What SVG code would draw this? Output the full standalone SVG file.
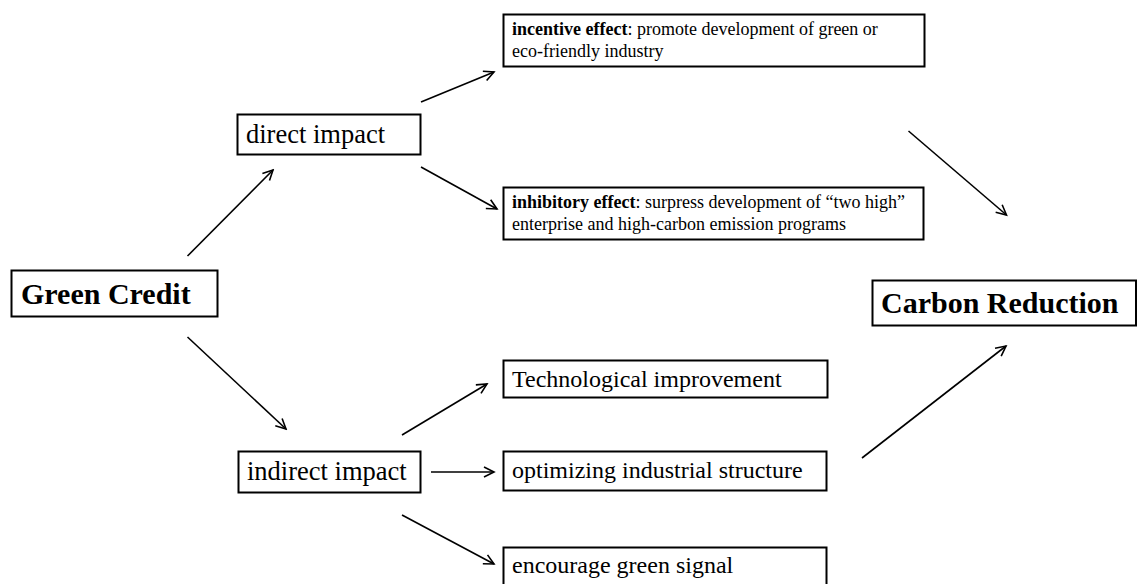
<svg xmlns="http://www.w3.org/2000/svg" width="1137" height="584" viewBox="0 0 1137 584">
  <style>
    .box { fill: #fff; stroke: #000; stroke-width: 2; }
    .t { font-family: "Liberation Serif", "Times New Roman", serif; fill: #000; }
    .big { font-size: 30px; font-weight: bold; }
    .mid { font-size: 26.5px; }
    .std { font-size: 24px; }
    .small { font-size: 18px; }
    .b { font-weight: bold; }
    .link { stroke: #000; stroke-width: 1.6; fill: none; marker-end: url(#arrow); }
  </style>
  <defs>
    <marker id="arrow" markerUnits="userSpaceOnUse" markerWidth="14" markerHeight="14" viewBox="0 0 14 14" refX="12" refY="7" orient="auto">
      <path d="M2,2 L12,7 L2,12" fill="none" stroke="#000" stroke-width="1.6"/>
    </marker>
  </defs>
  <rect width="1137" height="584" fill="#fff"/>

  <g id="green-credit">
    <rect class="box" x="11.5" y="270.5" width="206" height="46"/>
    <text class="t big" x="21" y="304">Green Credit</text>
  </g>

  <g id="direct-impact">
    <rect class="box" x="237.5" y="114.5" width="183" height="40"/>
    <text class="t mid" x="246" y="143">direct impact</text>
  </g>

  <g id="indirect-impact">
    <rect class="box" x="238.5" y="451.5" width="182" height="41"/>
    <text class="t mid" x="247" y="480">indirect impact</text>
  </g>

  <g id="incentive-effect">
    <rect class="box" x="503.5" y="14.5" width="421" height="52"/>
    <text class="t small" x="512" y="35"><tspan class="b">incentive effect</tspan>: promote development of green or</text>
    <text class="t small" x="512" y="57">eco-friendly industry</text>
  </g>

  <g id="inhibitory-effect">
    <rect class="box" x="503.5" y="187.5" width="420" height="52"/>
    <text class="t small" x="512" y="208"><tspan class="b">inhibitory effect</tspan>: surpress development of “two high”</text>
    <text class="t small" x="512" y="230">enterprise and high-carbon emission programs</text>
  </g>

  <g id="technological-improvement">
    <rect class="box" x="503.5" y="360.5" width="324" height="37"/>
    <text class="t std" x="512" y="387">Technological improvement</text>
  </g>

  <g id="industrial-structure">
    <rect class="box" x="503.5" y="451.5" width="323" height="39"/>
    <text class="t std" x="512" y="478">optimizing industrial structure</text>
  </g>

  <g id="green-signal">
    <rect class="box" x="503.5" y="547.5" width="323" height="40"/>
    <text class="t std" x="512" y="573">encourage green signal</text>
  </g>

  <g id="carbon-reduction">
    <rect class="box" x="872.5" y="280.5" width="263.5" height="45"/>
    <text class="t big" x="881" y="313">Carbon Reduction</text>
  </g>

  <g id="connectors">
    <line class="link" x1="187.5" y1="256" x2="273" y2="170"/>
    <line class="link" x1="187.5" y1="337" x2="286" y2="429"/>
    <line class="link" x1="421" y1="102" x2="494" y2="72"/>
    <line class="link" x1="421" y1="167" x2="497" y2="209"/>
    <line class="link" x1="402" y1="435" x2="487" y2="384"/>
    <line class="link" x1="431" y1="472" x2="494" y2="472"/>
    <line class="link" x1="402" y1="515" x2="494" y2="564"/>
    <line class="link" x1="908.5" y1="131" x2="1006.5" y2="215"/>
    <line class="link" x1="862" y1="458" x2="1006" y2="346"/>
  </g>
</svg>
